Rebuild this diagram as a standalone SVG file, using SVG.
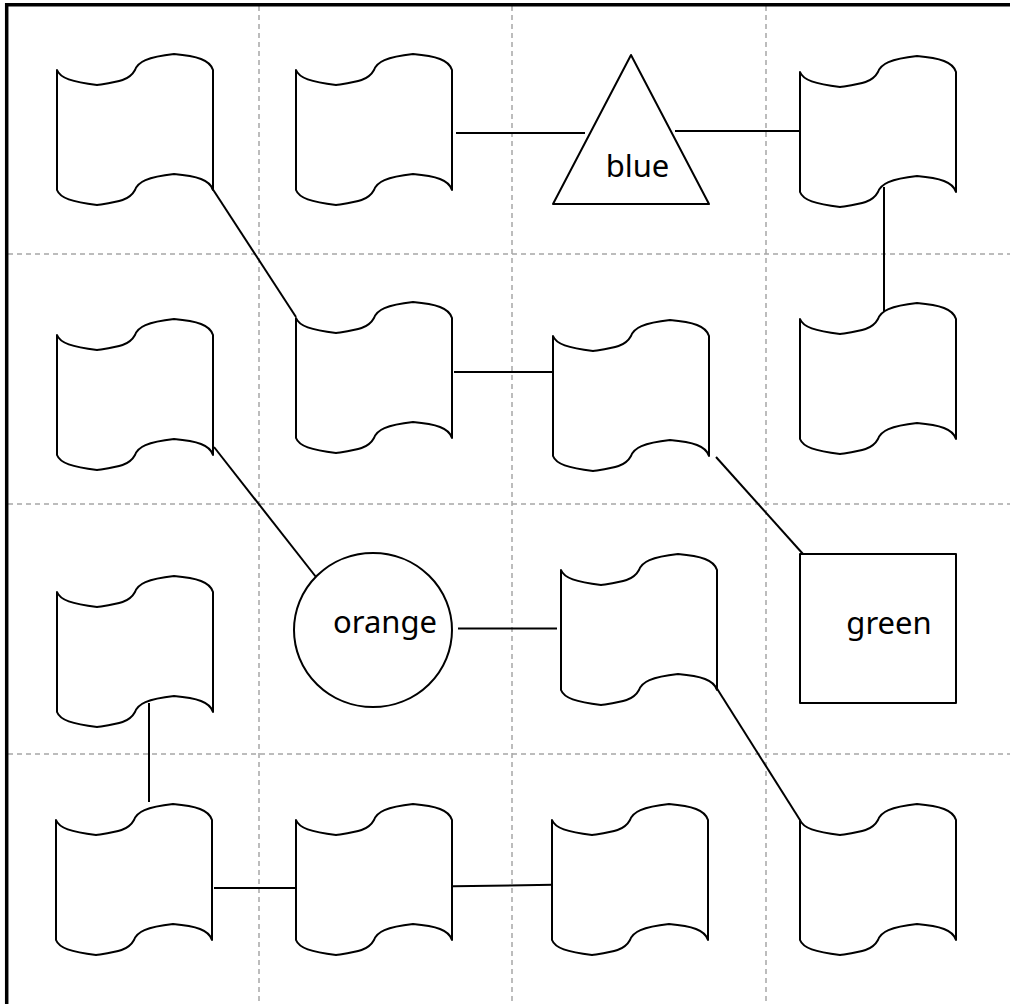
<svg xmlns="http://www.w3.org/2000/svg" xmlns:xlink="http://www.w3.org/1999/xlink" width="1010" height="1004" viewBox="0 0 1010 1004">
<style>
.grid{stroke:#a6a6a6;stroke-width:1.5;stroke-dasharray:5 4;fill:none}
.frame{stroke:#000;stroke-width:3.5;fill:none}
.shape{fill:#fff;stroke:#000;stroke-width:2;stroke-linejoin:round}
.conn line{stroke:#000;stroke-width:2}
.lbl{font-family:"Noto Sans","Open Sans",sans-serif;font-size:31px;fill:#000;text-anchor:middle}
</style>
<defs>
<path id="tape" class="shape" d="M0,0 C3,8 15,12 40,15 C60,12 72,11 78,0 C81,-8 90,-13 117,-16 C140,-14 153,-10 156,0 L156,120 C153,110 140,106 117,104 C90,107 81,112 78,120 C72,131 60,132 40,135 C15,132 3,128 0,120 Z"/>
</defs>
<rect width="1010" height="1004" fill="#fff"/>
<g id="grid">
<line class="grid" x1="259" y1="6" x2="259" y2="1004"/>
<line class="grid" x1="512" y1="6" x2="512" y2="1004"/>
<line class="grid" x1="766" y1="6" x2="766" y2="1004"/>
<line class="grid" x1="8" y1="254" x2="1010" y2="254"/>
<line class="grid" x1="8" y1="504" x2="1010" y2="504"/>
<line class="grid" x1="8" y1="754" x2="1010" y2="754"/>
</g>
<g id="frame">
<line class="frame" x1="6.7" y1="3" x2="6.7" y2="1004"/>
<line class="frame" x1="5" y1="4.7" x2="1010" y2="4.7"/>
</g>
<g id="connectors" class="conn">
<line x1="212" y1="188" x2="296" y2="317"/>
<line x1="456" y1="133" x2="585" y2="133"/>
<line x1="675" y1="131" x2="800" y2="131"/>
<line x1="884" y1="187" x2="884" y2="318"/>
<line x1="454" y1="372" x2="553" y2="372"/>
<line x1="214" y1="447" x2="316" y2="577"/>
<line x1="716" y1="457" x2="803" y2="554"/>
<line x1="458" y1="628.5" x2="557" y2="628.5"/>
<line x1="716" y1="687" x2="800" y2="820"/>
<line x1="149" y1="703" x2="149" y2="802"/>
<line x1="214" y1="888" x2="296" y2="888"/>
<line x1="453" y1="886.3" x2="553" y2="884.7"/>
</g>
<g id="n-a" transform="translate(57,70)"><use xlink:href="#tape"/></g>
<g id="n-b" transform="translate(296,70)"><use xlink:href="#tape"/></g>
<g id="n-blue"><polygon class="shape" points="631,55 709,204 553,204"/><text class="lbl" x="637.5" y="177">blue</text></g>
<g id="n-d" transform="translate(800,72)"><use xlink:href="#tape"/></g>
<g id="n-e" transform="translate(57,335)"><use xlink:href="#tape"/></g>
<g id="n-f" transform="translate(296,318)"><use xlink:href="#tape"/></g>
<g id="n-g" transform="translate(553,336)"><use xlink:href="#tape"/></g>
<g id="n-h" transform="translate(800,319)"><use xlink:href="#tape"/></g>
<g id="n-i" transform="translate(57,592)"><use xlink:href="#tape"/></g>
<g id="n-orange"><ellipse class="shape" cx="373" cy="630" rx="79" ry="77"/><text class="lbl" x="385" y="633">orange</text></g>
<g id="n-j" transform="translate(561,570)"><use xlink:href="#tape"/></g>
<g id="n-green"><rect class="shape" x="800" y="554" width="156" height="149"/><text class="lbl" x="889" y="634">green</text></g>
<g id="n-k" transform="translate(56,820)"><use xlink:href="#tape"/></g>
<g id="n-l" transform="translate(296,820)"><use xlink:href="#tape"/></g>
<g id="n-m" transform="translate(552,820)"><use xlink:href="#tape"/></g>
<g id="n-n" transform="translate(800,820)"><use xlink:href="#tape"/></g>
</svg>
